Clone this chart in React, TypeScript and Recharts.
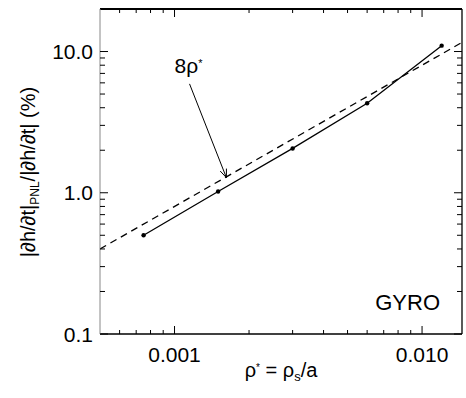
import { LineChart, Line, XAxis, YAxis, ReferenceLine, ReferenceDot } from 'recharts';

// GYRO scan: rho_star vs nonlinear parallel term (%)
const rhoStar = [0.00075, 0.0015, 0.003, 0.006, 0.012];
const pnlPct = [0.5, 1.02, 2.06, 4.3, 11.0];

// 8 rho_star reference line (endpoints)
const fitRho = [0.0005, 0.0145];
const fitPct = [0.4, 11.6];

// arrow for the "8ρ*" note
const arrowRho = [0.00115, 0.00162];
const arrowPct = [5.9, 1.28];

const xMajor = [0.001, 0.01];
const xMajorLabels = ['0.001', '0.010'];
const xMinor = [0.0006, 0.0007, 0.0008, 0.0009, 0.002, 0.003, 0.004, 0.005, 0.006, 0.007, 0.008, 0.009];
const yMajor = [0.1, 1, 10];
const yMajorLabels = ['0.1', '1.0', '10.0'];
const yMinor = [0.2, 0.3, 0.4, 0.5, 0.6, 0.7, 0.8, 0.9, 2, 3, 4, 5, 6, 7, 8, 9];

const scanData = rhoStar.map((r, i) => ({ r, v: pnlPct[i] }));
const fitData = fitRho.map((r, i) => ({ r, v: fitPct[i] }));

const FONT = '"Liberation Sans", Arial, Helvetica, sans-serif';
const xTicks = [...xMinor, ...xMajor].sort((a, b) => a - b);
const yTicks = [...yMinor, ...yMajor].sort((a, b) => a - b);

const isMajor = (list: number[], v: number) => list.some((m) => Math.abs(m - v) < 1e-9);

const BottomTick = (p: any) => {
  const { x, y, payload } = p;
  const i = xMajor.findIndex((m) => Math.abs(m - payload.value) < 1e-9);
  return (
    <g>
      <line x1={x} x2={x} y1={y} y2={y - (i >= 0 ? 8 : 4)} stroke="#000" />
      {i >= 0 && (
        <text x={x} y={y + 28} textAnchor="middle" fontSize={21} fontFamily={FONT} fill="#000">
          {xMajorLabels[i]}
        </text>
      )}
    </g>
  );
};

const TopTick = (p: any) => {
  const { x, y, payload } = p;
  const big = isMajor(xMajor, payload.value);
  return <line x1={x} x2={x} y1={y} y2={y + (big ? 8 : 4)} stroke="#000" />;
};

const LeftTick = (p: any) => {
  const { x, y, payload } = p;
  const i = yMajor.findIndex((m) => Math.abs(m - payload.value) < 1e-9);
  return (
    <g>
      <line x1={x} x2={x + (i >= 0 ? 8 : 5)} y1={y} y2={y} stroke="#000" />
      {i >= 0 && (
        <text x={x - 7} y={y + 7.5} textAnchor="end" fontSize={21} fontFamily={FONT} fill="#000">
          {yMajorLabels[i]}
        </text>
      )}
    </g>
  );
};

const RightTick = (p: any) => {
  const { x, y, payload } = p;
  const big = isMajor(yMajor, payload.value);
  return <line x1={x} x2={x - (big ? 8 : 5)} y1={y} y2={y} stroke="#000" />;
};

const ArrowShape = (p: any) => {
  const { x1, y1, x2, y2 } = p;
  const a = Math.atan2(y2 - y1, x2 - x1);
  const L = 9;
  const s = 0.38;
  const ax = x2 - L * Math.cos(a - s);
  const ay = y2 - L * Math.sin(a - s);
  const bx = x2 - L * Math.cos(a + s);
  const by = y2 - L * Math.sin(a + s);
  return (
    <g>
      <line x1={x1} y1={y1} x2={x2} y2={y2} stroke="#000" strokeWidth={1} />
      <polyline points={`${ax},${ay} ${x2},${y2} ${bx},${by}`} fill="none" stroke="#000" strokeWidth={1} />
    </g>
  );
};

const NoteText = (p: any) => (
  <text x={p.cx} y={p.cy} fontSize={21} fontFamily={FONT} fill="#000">
    8ρ<tspan fontSize={11} dy={-6}>*</tspan>
  </text>
);

export default function App() {
  return (
    <div style={{ position: 'absolute', left: 0, top: 0, width: 466, height: 398, background: '#fff' }}>
      <LineChart width={466} height={398} margin={{ top: 0, right: 0, bottom: 0, left: 0 }}>
        <XAxis
          xAxisId="top"
          orientation="top"
          type="number"
          scale="log"
          dataKey="r"
          domain={[fitRho[0], fitRho[1]]}
          allowDataOverflow
          ticks={xTicks}
          interval={0}
          height={9}
          tickSize={0}
          tickMargin={0}
          tick={<TopTick />}
          axisLine={{ stroke: '#000', strokeWidth: 2.2 }}
        />
        <XAxis
          type="number"
          scale="log"
          dataKey="r"
          domain={[fitRho[0], fitRho[1]]}
          allowDataOverflow
          ticks={xTicks}
          interval={0}
          height={64}
          tickSize={0}
          tickMargin={0}
          tick={<BottomTick />}
          axisLine={{ stroke: '#000', strokeWidth: 1.5 }}
        />
        <YAxis
          type="number"
          scale="log"
          dataKey="v"
          domain={[0.1, 20]}
          allowDataOverflow
          ticks={yTicks}
          interval={0}
          width={100}
          tickSize={0}
          tickMargin={0}
          tick={<LeftTick />}
          axisLine={{ stroke: '#888', strokeWidth: 1 }}
        />
        <YAxis
          yAxisId="right"
          orientation="right"
          type="number"
          scale="log"
          dataKey="v"
          domain={[0.1, 20]}
          allowDataOverflow
          ticks={yTicks}
          interval={0}
          width={4}
          tickSize={0}
          tickMargin={0}
          tick={<RightTick />}
          axisLine={{ stroke: '#000', strokeWidth: 1.3 }}
        />
        <Line
          data={fitData}
          dataKey="v"
          type="linear"
          stroke="#000"
          strokeWidth={1.3}
          strokeDasharray="7 5"
          dot={false}
          isAnimationActive={false}
        />
        <Line
          data={scanData}
          dataKey="v"
          type="linear"
          stroke="#000"
          strokeWidth={1.3}
          dot={{ r: 2.2, fill: '#000', stroke: '#000', strokeWidth: 0 }}
          isAnimationActive={false}
        />
        <ReferenceLine
          segment={[
            { x: arrowRho[0], y: arrowPct[0] },
            { x: arrowRho[1], y: arrowPct[1] },
          ]}
          ifOverflow="visible"
          shape={<ArrowShape />}
        />
        <ReferenceDot x={0.001} y={7} r={0} ifOverflow="visible" shape={<NoteText />} />
      </LineChart>
      <svg width={466} height={398} style={{ position: 'absolute', left: 0, top: 0, pointerEvents: 'none' }}>
        <text x={440} y={310} textAnchor="end" fontSize={22} fontFamily={FONT} fill="#000">
          GYRO
        </text>
        <text x={281} y={377} textAnchor="middle" fontSize={20} fontFamily={FONT} fill="#000">
          ρ<tspan fontSize={10} dy={-6}>*</tspan>
          <tspan dy={6}> = ρ</tspan>
          <tspan fontSize={13} dy={4}>s</tspan>
          <tspan dy={-4}>/a</tspan>
        </text>
        <text
          transform="rotate(-90)"
          x={-172}
          y={35}
          textAnchor="middle"
          fontSize={20}
          fontFamily={FONT}
          fill="#000"
        >
          |∂h/∂t|<tspan fontSize={12} dy={4}>PNL</tspan>
          <tspan dy={-4}>/|∂h/∂t| (%)</tspan>
        </text>
      </svg>
    </div>
  );
}
